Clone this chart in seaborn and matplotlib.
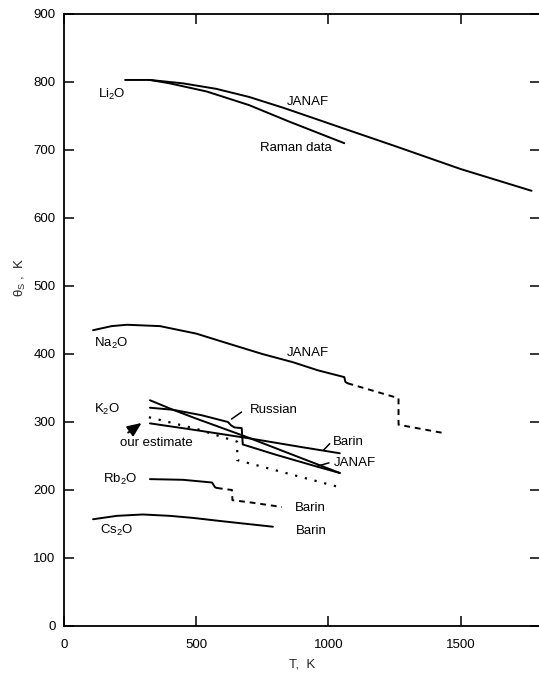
import matplotlib
matplotlib.use("Agg")
import matplotlib.pyplot as plt
import seaborn as sns

# ==========================================
# Data (T in K, theta_S in K)
# ==========================================
li2o_janaf_T = [231, 325, 450, 575, 700, 830, 950, 1062, 1250, 1500, 1768]
li2o_janaf_th = [803, 803, 798, 790, 778, 762, 746, 731, 706, 672, 640]
li2o_raman_T = [325, 400, 540, 700, 850, 1060]
li2o_raman_th = [803, 798, 786, 766, 742, 710]

na2o_solid_T = [110, 180, 238, 363, 500, 616, 750, 865, 960, 1060, 1064, 1072]
na2o_solid_th = [435, 441, 443, 441, 430, 416, 400, 388, 376, 366, 359, 357]
na2o_dash_T = [1072, 1265, 1265, 1432]
na2o_dash_th = [357, 335, 296, 284]

k2o_janaf_T = [325, 412, 500, 684, 850, 970, 1043]
k2o_janaf_th = [332, 318, 305, 279, 254, 236, 225]
k2o_russian_T = [325, 412, 520, 620, 632, 645, 672, 676, 800, 960, 1043]
k2o_russian_th = [321, 318, 310, 300, 295, 292, 291, 267, 252, 234, 225]
k2o_barin_T = [325, 500, 700, 900, 1043]
k2o_barin_th = [298, 288, 276, 263, 254]
k2o_est_T = [321, 500, 655, 655, 800, 1043]
k2o_est_th = [307, 290, 271, 244, 229, 204]

rb2o_solid_T = [325, 450, 560, 571, 578]
rb2o_solid_th = [216, 215, 211, 204, 203]
rb2o_dash_T = [578, 635, 637, 700, 824]
rb2o_dash_th = [203, 200, 185, 182, 175]

cs2o_T = [110, 200, 298, 400, 487, 600, 790]
cs2o_th = [157, 162, 164, 162, 159, 154, 146]

x_ticks = [0, 500, 1000, 1500]
y_ticks = [0, 100, 200, 300, 400, 500, 600, 700, 800, 900]

# ==========================================
# Style
# ==========================================
sns.set_theme(style="ticks")
plt.rcParams["font.family"] = ["Liberation Sans", "DejaVu Sans"]
plt.rcParams["mathtext.fontset"] = "custom"
plt.rcParams["mathtext.rm"] = "Liberation Sans"
plt.rcParams["mathtext.default"] = "rm"

LW = 1.4
DASH = (0, (3, 2.5))
DOT = (0, (1, 3.5))

fig = plt.figure(figsize=(5.39, 6.74), dpi=100)
ax = fig.add_axes([64 / 539, 1 - 626 / 674, 476 / 539, 612 / 674])


def draw(T, th, ls="-", lw=LW):
    sns.lineplot(x=T, y=th, ax=ax, sort=False, estimator=None,
                 color="black", linewidth=lw, linestyle=ls)


draw(li2o_janaf_T, li2o_janaf_th)
draw(li2o_raman_T, li2o_raman_th)
draw(na2o_solid_T, na2o_solid_th)
draw(na2o_dash_T, na2o_dash_th, DASH)
draw(k2o_janaf_T, k2o_janaf_th)
draw(k2o_russian_T, k2o_russian_th)
draw(k2o_barin_T, k2o_barin_th)
draw(k2o_est_T, k2o_est_th, DOT, lw=1.6)
draw(rb2o_solid_T, rb2o_solid_th)
draw(rb2o_dash_T, rb2o_dash_th, DASH)
draw(cs2o_T, cs2o_th)

# curve labels
fs = 9.5
labels = [
    ("Li$_2$O", 181, 781), ("JANAF", 922, 770), ("Raman data", 876, 703),
    ("Na$_2$O", 178, 416), ("JANAF", 922, 401),
    ("K$_2$O", 162, 318), ("Russian", 793, 318), ("our estimate", 348, 269),
    ("Barin", 1077, 271), ("JANAF", 1099, 240),
    ("Rb$_2$O", 212, 216), ("Barin", 933, 173),
    ("Cs$_2$O", 200, 141), ("Barin", 937, 140),
]
for txt, x, y in labels:
    ax.text(x, y, txt, fontsize=fs, ha="center", va="center", color="black")

# leader lines to the K2O curves
leaders = [((625, 302), (680, 317)), ((975, 256), (1012, 271)), ((948, 234), (1012, 241))]
for (x0, y0), (x1, y1) in leaders:
    ax.annotate("", xy=(x0, y0), xytext=(x1, y1),
                arrowprops=dict(arrowstyle="-", color="black", lw=1.1))
ax.annotate("", xy=(302, 301), xytext=(234, 282),
            arrowprops=dict(arrowstyle="-|>,head_length=0.7,head_width=0.3",
                            color="black", lw=1.4))

ax.set_xlim(0, 1800)
ax.set_ylim(0, 900)
ax.set_xticks(x_ticks)
ax.set_yticks(y_ticks)
ax.tick_params(direction="in", length=7, width=1.1, top=True, right=True,
               labelsize=9.5, colors="black")
ax.tick_params(axis="x", pad=9)
ax.tick_params(axis="y", pad=6)
for s in ax.spines.values():
    s.set_linewidth(1.3)
    s.set_color("black")

ax.set_xlabel("T,  K", fontsize=9.5, labelpad=6)
ax.set_ylabel("θ$_S$ ,  K", fontsize=9.5)
ax.yaxis.set_label_coords(-0.075, 0.57)

fig.savefig("out.png", dpi=100, facecolor="white")
